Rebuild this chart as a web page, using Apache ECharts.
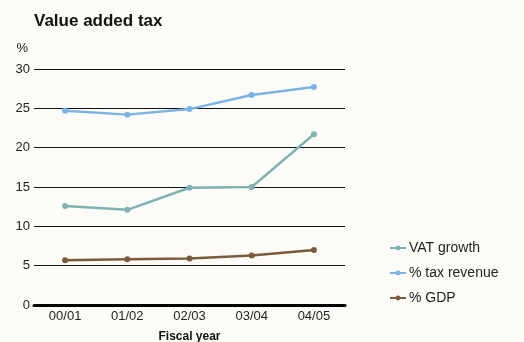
<!DOCTYPE html>
<html>
<head>
<meta charset="utf-8">
<script src="https://cdn.jsdelivr.net/npm/echarts@6/dist/echarts.min.js"></script>
<style>
  html, body { margin: 0; padding: 0; background: #fdfcf8; }
  #chart { width: 524px; height: 342px; }
</style>
</head>
<body>
<div id="chart"></div>
<script>
// Fiscal years on the x axis
const years = ['00/01', '01/02', '02/03', '03/04', '04/05'];
// VAT series, in per cent
const vatGrowth = [12.6, 12.1, 14.9, 15.0, 21.7];
const taxRevenueShare = [24.7, 24.2, 24.9, 26.7, 27.7];
const gdpShare = [5.7, 5.8, 5.9, 6.3, 7.0];
// Value axis ticks
const yTicks = [0, 5, 10, 15, 20, 25, 30];

const chart = echarts.init(document.getElementById('chart'), null, { renderer: 'canvas' });

function lineSeries(name, data, color) {
  return {
    name: name,
    type: 'line',
    data: data,
    symbol: 'circle',
    symbolSize: 6,
    showSymbol: true,
    lineStyle: { color: color, width: 2.5 },
    itemStyle: { color: color },
    emphasis: { disabled: true }
  };
}

chart.setOption({
  backgroundColor: '#fdfcf8',
  animation: false,
  textStyle: { fontFamily: 'Liberation Sans, Arial, sans-serif' },
  title: {
    text: 'Value added tax',
    left: 29,
    top: 8,
    textStyle: {
      fontFamily: 'Liberation Sans Narrow, Liberation Sans, sans-serif',
      fontWeight: 'bold',
      fontSize: 17,
      color: '#111'
    }
  },
  legend: {
    orient: 'vertical',
    left: 384,
    top: 236,
    itemGap: 11,
    itemWidth: 16,
    itemHeight: 6,
    textStyle: { fontSize: 14, color: '#222', padding: [0, 0, 0, -2] },
    data: ['VAT growth', '% tax revenue', '% GDP']
  },
  grid: { left: 34, right: 179, top: 69, bottom: 37, containLabel: false, outerBoundsMode: 'none' },
  xAxis: {
    type: 'category',
    data: years,
    boundaryGap: true,
    name: 'Fiscal year',
    nameLocation: 'middle',
    nameGap: 26,
    nameTextStyle: { fontSize: 12, fontWeight: 'bold', color: '#111' },
    axisLine: { show: true, lineStyle: { color: '#000', width: 3 } },
    axisTick: { show: false },
    axisLabel: { fontSize: 13, color: '#222', margin: 5 }
  },
  yAxis: {
    type: 'value',
    min: yTicks[0],
    max: yTicks[yTicks.length - 1],
    interval: 5,
    name: '%',
    nameLocation: 'end',
    nameGap: 14,
    nameTextStyle: { fontSize: 13, color: '#222', align: 'right', padding: [0, 6, 0, 0] },
    axisLine: { show: false },
    axisTick: { show: false },
    axisLabel: { fontSize: 13, color: '#222', margin: 4 },
    splitLine: { show: true, lineStyle: { color: '#111', width: 1 } }
  },
  series: [
    lineSeries('VAT growth', vatGrowth, '#7eb3b1'),
    lineSeries('% tax revenue', taxRevenueShare, '#7ab4e6'),
    lineSeries('% GDP', gdpShare, '#7c5b3d')
  ]
});
</script>
</body>
</html>
